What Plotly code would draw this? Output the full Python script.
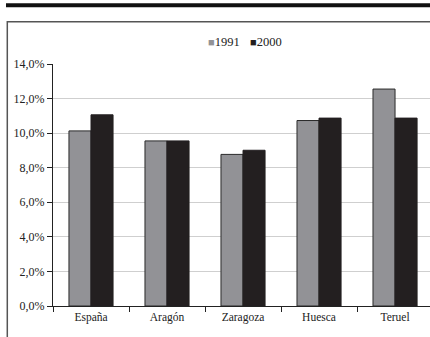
import plotly.graph_objects as go

categories = ["España", "Aragón", "Zaragoza", "Huesca", "Teruel"]
values_1991 = [10.13, 9.55, 8.77, 10.73, 12.55]
values_2000 = [11.06, 9.55, 9.01, 10.87, 10.87]
series_names = ["1991", "2000"]
series_colors = ["#929296", "#231f20"]
y_ticks = [0, 2, 4, 6, 8, 10, 12, 14]
y_tick_labels = ["0,0%", "2,0%", "4,0%", "6,0%", "8,0%", "10,0%", "12,0%", "14,0%"]

W, H = 430, 337
L, R, T, B = 53, 0, 64, 31
pw, ph = W - L - R, H - T - B

def px_x(x):
    return (x - L) / pw

def px_y(y):
    return (H - B - y) / ph

fig = go.Figure()
fig.add_trace(go.Bar(x=categories, y=values_1991, name=series_names[0],
                     marker=dict(color=series_colors[0], line=dict(color="#2a2a2a", width=1))))
fig.add_trace(go.Bar(x=categories, y=values_2000, name=series_names[1],
                     marker=dict(color=series_colors[1], line=dict(color="#231f20", width=1))))

legend_x = [206, 248]
annotations = []
for name, color, lx in zip(series_names, series_colors, legend_x):
    annotations.append(dict(
        text=f"<span style='font-size:11px;color:{color}'>■</span>{name}",
        xref="paper", yref="paper", x=px_x(lx), y=px_y(42),
        xanchor="left", yanchor="middle", showarrow=False,
        font=dict(size=12.5, color="#222")))

fig.update_layout(
    width=W, height=H,
    margin=dict(l=L, r=R, t=T, b=B, pad=0),
    paper_bgcolor="white", plot_bgcolor="white",
    barmode="group", bargap=0.42, bargroupgap=0,
    font=dict(family="Liberation Serif", size=12, color="#222"),
    showlegend=False,
    annotations=annotations,
    xaxis=dict(range=[-0.5, 4.46], showline=True, linecolor="#222", linewidth=1,
               ticks="outside", tickson="boundaries", ticklen=5, tickcolor="#222",
               showgrid=False, fixedrange=True, tickfont=dict(size=11.5)),
    yaxis=dict(range=[0, 14], tickvals=y_ticks, ticktext=y_tick_labels,
               showline=True, linecolor="#222", linewidth=1,
               ticks="outside", ticklen=5, tickcolor="#222",
               showgrid=True, gridcolor="#cfcfcf", gridwidth=1,
               zeroline=False, fixedrange=True, tickfont=dict(size=12)),
    shapes=[
        dict(type="rect", xref="paper", yref="paper",
             x0=px_x(7.3), x1=px_x(440), y0=px_y(21.7), y1=px_y(345),
             line=dict(color="#555", width=1.5), fillcolor="rgba(0,0,0,0)", layer="below"),
        dict(type="line", xref="paper", yref="paper",
             x0=px_x(6), x1=px_x(440), y0=px_y(5.3), y1=px_y(5.3),
             line=dict(color="#111", width=4)),
    ],
)

fig.write_html("out.html", config={"displayModeBar": False},
               post_script="document.documentElement.style.overflow='hidden';document.body.style.margin='0';document.body.style.overflow='hidden';")
